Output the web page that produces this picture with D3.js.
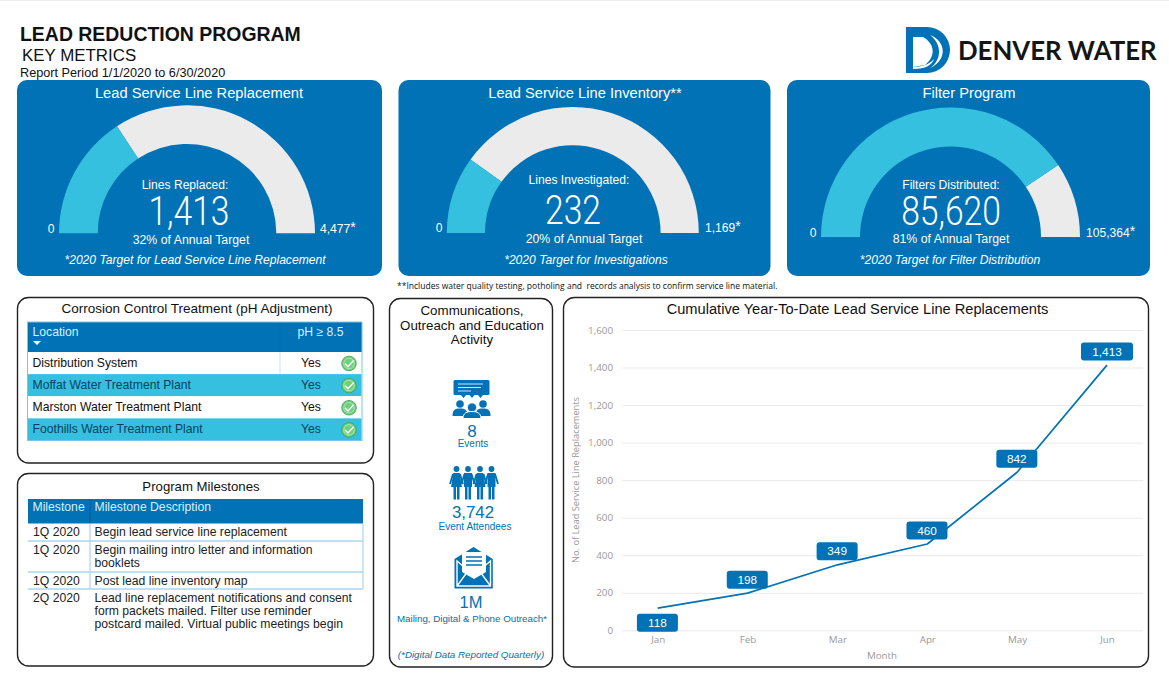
<!DOCTYPE html>
<html><head><meta charset="utf-8">
<script src="https://cdn.jsdelivr.net/npm/d3@7/dist/d3.min.js"></script>
<style>html,body{margin:0;padding:0;background:#fff;overflow:hidden}svg{display:block}text{font-family:"Liberation Sans",Arial,sans-serif;white-space:pre}</style>
</head><body><svg id="c" width="1169" height="693"></svg>
<script>
// ---- data ----
const months = ["Jan","Feb","Mar","Apr","May","Jun"];
const cumulative = [118,198,349,460,842,1413];
const labelBelow = [true,false,false,false,false,false];
const yTicks = [0,200,400,600,800,1000,1200,1400,1600];

const gaugeTitles = ["Lead Service Line Replacement","Lead Service Line Inventory**","Filter Program"];
const gaugeCaptions = ["Lines Replaced:","Lines Investigated:","Filters Distributed:"];
const gaugeValues = [1413,232,85620];
const gaugeTargets = [4477,1169,105364];
const gaugePercents = ["32% of Annual Target","20% of Annual Target","81% of Annual Target"];
const gaugeNotes = ["*2020 Target for Lead Service Line Replacement","*2020 Target for Investigations","*2020 Target for Filter Distribution"];

const locations = ["Distribution System","Moffat Water Treatment Plant","Marston Water Treatment Plant","Foothills Water Treatment Plant"];
const phStatus = ["Yes","Yes","Yes","Yes"];

const milestoneQuarters = ["1Q 2020","1Q 2020","1Q 2020","2Q 2020"];
const milestoneLines = [
  ["Begin lead service line replacement"],
  ["Begin mailing intro letter and information","booklets"],
  ["Post lead line inventory map"],
  ["Lead line replacement notifications and consent","form packets mailed. Filter use reminder","postcard mailed. Virtual public meetings begin"]];

const BLUE="#0072B5", CYAN="#35C0E0", GREY="#EBEBEB", INK="#111";
const svg=d3.select("#c");
const T=(g,x,y,s,size,fill,anchor,extra)=>{const t=g.append("text").attr("x",x).attr("y",y).attr("font-size",size).attr("fill",fill||INK).attr("text-anchor",anchor||"start").text(s);
  if(extra)Object.entries(extra).forEach(([k,v])=>t.attr(k,v));return t;};
const fmt=d3.format(",");

svg.append("rect").attr("width",1169).attr("height",1).attr("fill","#eee");

// ---- header ----
T(svg,20,40.5,"LEAD REDUCTION PROGRAM",19.45,INK,"start",{"font-weight":"bold"});
T(svg,22,61,"KEY METRICS",16.9,INK);
T(svg,20,77,"Report Period 1/1/2020 to 6/30/2020",12.7,INK);

// logo
const logo=svg.append("g");
logo.append("path").attr("fill",BLUE).attr("d","M906 27H927A23 23 0 0 1 927 73H906Z");
logo.append("path").attr("fill","#fff").attr("d","M913 37H923C935 44 936 56 925 65L913 67Z");
logo.append("path").attr("fill","#fff").attr("d","M930 35C946 41 948 60 930 68C942 60 942 44 930 35Z");
logo.append("path").attr("fill","#fff").attr("d","M913 67C922 67 930 64 934 59C932 65 926 69 913 69Z");
T(logo,958,60,"DENVER WATER",25.8,"#151515","start",{"font-weight":"bold","style":"font-family:Lato"});

// ---- gauges ----
const cards=[
 {x:17,w:365,cx:187,by:233.3,ro:128,ri:89.3,tx:199,cap:[185,189],val:[189,225],pct:[191,244],note:195,zero:51,max:320,my:233},
 {x:398.5,w:372,cx:572.8,by:233,ro:126,ri:87.8,tx:585,cap:[579,184],val:[573,224],pct:[584,243],note:586,zero:439,max:705,my:232},
 {x:787,w:363,cx:950.5,by:237,ro:129.5,ri:90.5,tx:969,cap:[951,189],val:[951,225],pct:[951,243],note:950,zero:813,max:1086,my:237}];
cards.forEach((c,i)=>{
  const g=svg.append("g");
  g.append("rect").attr("x",c.x).attr("y",80).attr("width",c.w).attr("height",196).attr("rx",10).attr("fill",BLUE);
  const a=d3.scaleLinear().domain([0,gaugeTargets[i]]).range([-Math.PI/2,Math.PI/2]);
  const arc=d3.arc().innerRadius(c.ri).outerRadius(c.ro);
  const ag=g.append("g").attr("transform",`translate(${c.cx},${c.by})`);
  ag.append("path").attr("fill",GREY).attr("d",arc({startAngle:a(gaugeValues[i]),endAngle:a(gaugeTargets[i])}));
  ag.append("path").attr("fill",CYAN).attr("d",arc({startAngle:a(0),endAngle:a(gaugeValues[i])}));
  T(g,c.tx,97.5,gaugeTitles[i],14.7,"#fff","middle");
  T(g,c.cap[0],c.cap[1],gaugeCaptions[i],12.1,"#fff","middle");
  const v=T(g,c.val[0],c.val[1],fmt(gaugeValues[i]),41,"#fff","middle",{"style":"font-family:Roboto;font-weight:300"});
  v.attr("textLength",v.node().getComputedTextLength()*0.82).attr("lengthAdjust","spacingAndGlyphs");
  T(g,c.pct[0],c.pct[1],gaugePercents[i],12.3,"#fff","middle");
  T(g,c.note,264,gaugeNotes[i],12.1,"#fff","middle",{"font-style":"italic"});
  T(g,c.zero,c.my,"0",12.1,"#fff","middle");
  T(g,c.max,c.my,fmt(gaugeTargets[i]),12.1,"#fff").append("tspan").attr("font-size",14).attr("dy",-1).text("*");
});
T(svg,397,288.5,"**Includes water quality testing, potholing and  records analysis to confirm service line material.",8.52,"#111","start",{"style":"font-family:'Open Sans'"});

// ---- panels ----
const panel=(x,y,w,h)=>svg.append("rect").attr("x",x).attr("y",y).attr("width",w).attr("height",h).attr("rx",11).attr("fill","#fff").attr("stroke","#222").attr("stroke-width",1.4);
panel(17.5,297.5,356,165.5);
panel(17.5,473.5,356,192.5);
panel(389.5,298.5,163,368.5);
panel(563.5,297.5,585,369.5);

// ---- corrosion table ----
const ct=svg.append("g");
T(ct,197,313,"Corrosion Control Treatment (pH Adjustment)",13.5,INK,"middle");
ct.append("rect").attr("x",27).attr("y",322).attr("width",335).attr("height",30).attr("fill",BLUE);
T(ct,32.5,336,"Location",12.2,"#d8f0fb");
ct.append("path").attr("fill","#fff").attr("d","M33 341H41L37 345Z");
T(ct,320.5,336,"pH \u2265 8.5",12.2,"#d8f0fb","middle");
const rowY=d3.scaleBand().domain(d3.range(locations.length)).range([352,440.5]);
locations.forEach((loc,i)=>{
  const y=rowY(i), h=rowY.bandwidth(), odd=i%2==1;
  ct.append("rect").attr("x",27.5).attr("y",y).attr("width",334).attr("height",h).attr("fill",odd?CYAN:"#fff");
  T(ct,32.5,y+15,loc,12.2,odd?"#06405f":"#111");
  T(ct,311,y+15,phStatus[i],12.2,odd?"#06405f":"#111","middle");
  const ck=ct.append("g").attr("transform",`translate(349,${y+11.5})`);
  ck.append("circle").attr("r",7.3).attr("fill","#6FCF7C").attr("stroke","#3f9e58").attr("stroke-width",.8);
  ck.append("circle").attr("r",5.2).attr("fill","none").attr("stroke","#c9efd0").attr("stroke-width",.7);
  ck.append("path").attr("d","M-4 0L-1 3.2L4.5 -3").attr("fill","none").attr("stroke","#fff").attr("stroke-width",1.4);
});
ct.append("rect").attr("x",27.5).attr("y",322).attr("width",334.5).attr("height",118.5).attr("fill","none").attr("stroke","#7fc3e6").attr("stroke-width",1);
ct.append("line").attr("x1",280).attr("x2",280).attr("y1",322).attr("y2",374).attr("stroke","#0a69a5").attr("stroke-opacity",.2);

// ---- milestones ----
const mt=svg.append("g");
T(mt,201,491,"Program Milestones",13.2,INK,"middle");
mt.append("rect").attr("x",28).attr("y",499).attr("width",335).attr("height",24.5).attr("fill",BLUE);
mt.append("line").attr("x1",90).attr("x2",90).attr("y1",499).attr("y2",523.5).attr("stroke","#00588f");
T(mt,32.5,511,"Milestone",12.2,"#d8f0fb");
T(mt,94.5,511,"Milestone Description",12.2,"#d8f0fb");
const mTops=[523.5,541,572,589];
milestoneQuarters.forEach((q,i)=>{
  const y=mTops[i];
  T(mt,33,y+12.5,q,12.2,"#222");
  milestoneLines[i].forEach((l,j)=>T(mt,94.5,y+12.5+j*13.4,l,12.2,"#222"));
  if(i<3) mt.append("line").attr("x1",28).attr("x2",363).attr("y1",mTops[i+1]).attr("y2",mTops[i+1]).attr("stroke","#7fc3e6").attr("stroke-width",1);
});
mt.append("path").attr("fill","none").attr("stroke","#a8d6ef").attr("stroke-width",1.2).attr("d","M90 523.5V589M363 523.5V589");

// ---- communications ----
const cm=svg.append("g");
["Communications,","Outreach and Education","Activity"].forEach((s,i)=>T(cm,472,315+i*14.6,s,13.35,INK,"middle"));
// events icon
const ev=cm.append("g").attr("fill",BLUE);
ev.append("rect").attr("x",453.5).attr("y",380).attr("width",36).attr("height",15).attr("rx",1.5);
ev.append("path").attr("d","M461 395h5l-2.5 3ZM469.5 395h5l-2.5 3ZM478 395h5l-2.5 3Z");
ev.append("path").attr("fill","none").attr("stroke","#cfe6f5").attr("stroke-width",1).attr("d","M458 384H483M458 387.5H481M458 391H471");
[[460,404],[483,404]].forEach(([x,y])=>{
  ev.append("circle").attr("cx",x).attr("cy",y).attr("r",3.8);
  ev.append("path").attr("d",`M${x-7.5} ${y+12}C${x-7.5} ${y+6} ${x-5} ${y+4.5} ${x} ${y+4.5}C${x+5} ${y+4.5} ${x+7.5} ${y+6} ${x+7.5} ${y+12}Z`);
});
ev.append("circle").attr("cx",472).attr("cy",407.5).attr("r",4.6).attr("stroke","#fff").attr("stroke-width",.8);
ev.append("path").attr("stroke","#fff").attr("stroke-width",1).attr("d","M463 418.5C463 413 467 411.5 472 411.5C477 411.5 481 413 481 418.5Z");
T(cm,472,436.5,"8",17,BLUE,"middle");
T(cm,473,447,"Events",10,BLUE,"middle");
// attendee icon
const at=cm.append("g").attr("fill",BLUE);
[456.5,468,480,491.5].forEach((x,i)=>{
  at.append("circle").attr("cx",x).attr("cy",469).attr("r",2.9);
  if(i%2==0){
    at.append("path").attr("d",`M${x-3.2} 473H${x+3.2}L${x+5.5} 487H${x-5.5}Z`);
  } else {
    at.append("path").attr("d",`M${x-4} 473H${x+4}V487H${x-4}Z`);
  }
  at.append("path").attr("d",`M${x-3} 486H${x-.5}V499.5H${x-3}ZM${x+.5} 486H${x+3}V499.5H${x+.5}Z`);
  at.append("path").attr("fill","none").attr("stroke",BLUE).attr("stroke-width",1.8).attr("d",`M${x-3.5} 474L${x-6.5} 484M${x+3.5} 474L${x+6.5} 484`);
});
T(cm,473,517.5,"3,742",16.8,BLUE,"middle");
T(cm,475,530,"Event Attendees",10,BLUE,"middle");
// envelope icon
const en=cm.append("g");
en.append("path").attr("fill",BLUE).attr("d","M454.5 588.5V559L473.5 547L492.8 559V588.5Z");
en.append("path").attr("fill","#fff").attr("d","M462 552H486V572L474 579L462 572Z");
en.append("path").attr("fill","none").attr("stroke",BLUE).attr("stroke-width",1.4).attr("d","M466 557H482M466 561H482M466 565H482");
en.append("path").attr("fill","none").attr("stroke","#fff").attr("stroke-width",1.4).attr("d","M457 561V586H490.5V561L473.7 575ZM457 586L468 571M490.5 586L479.5 571");
T(cm,471,607.5,"1M",16.5,BLUE,"middle");
T(cm,472,622,"Mailing, Digital & Phone Outreach*",9.75,BLUE,"middle");
T(cm,471,658,"(*Digital Data Reported Quarterly)",9.75,BLUE,"middle",{"font-style":"italic"});

// ---- line chart ----
const lc=svg.append("g");
T(lc,857.5,314,"Cumulative Year-To-Date Lead Service Line Replacements",14.65,INK,"middle");
const x=d3.scalePoint().domain(months).range([657.7,1107]);
const y=d3.scaleLinear().domain([0,1600]).range([630.3,330]);
const yAxis=lc.append("g").attr("transform","translate(622,0)")
  .call(d3.axisLeft(y).tickValues(yTicks).tickSize(-521).tickPadding(9).tickFormat(fmt));
yAxis.select(".domain").remove();
yAxis.selectAll("line").attr("stroke","#eaeaea").attr("stroke-width",1);
yAxis.selectAll("text").attr("fill","#999").attr("style","font-family:'Open Sans'").attr("font-size",9.8);
const xAxis=lc.append("g").attr("transform","translate(0,630.3)")
  .call(d3.axisBottom(x).tickSize(0).tickPadding(6));
xAxis.select(".domain").remove();
xAxis.selectAll("text").attr("fill","#999").attr("style","font-family:'Open Sans'").attr("font-size",9.8);
T(lc,882,659,"Month",9.8,"#999","middle",{"style":"font-family:'Open Sans'"});
T(lc,0,0,"No. of Lead Service Line Replacements",9.25,"#999","middle",{"style":"font-family:'Open Sans'","transform":"translate(579,480) rotate(-90)"});
const line=d3.line().x((d,i)=>x(months[i])).y(d=>y(d)).curve(d3.curveLinear);
lc.append("path").attr("d",line(cumulative)).attr("fill","none").attr("stroke",BLUE).attr("stroke-width",1.7).attr("stroke-linejoin","round");
cumulative.forEach((v,i)=>{
  const s=fmt(v), w=s.length>3?52:41, cx=x(months[i])+(s.length>3?0:-0.3), cy=y(v)+(labelBelow[i]?14.5:-13.5);
  lc.append("rect").attr("x",cx-w/2).attr("y",cy-9).attr("width",w).attr("height",18).attr("rx",3).attr("fill",BLUE);
  T(lc,cx,cy+4.2,s,11.8,"#fff","middle");
});
</script></body></html>
